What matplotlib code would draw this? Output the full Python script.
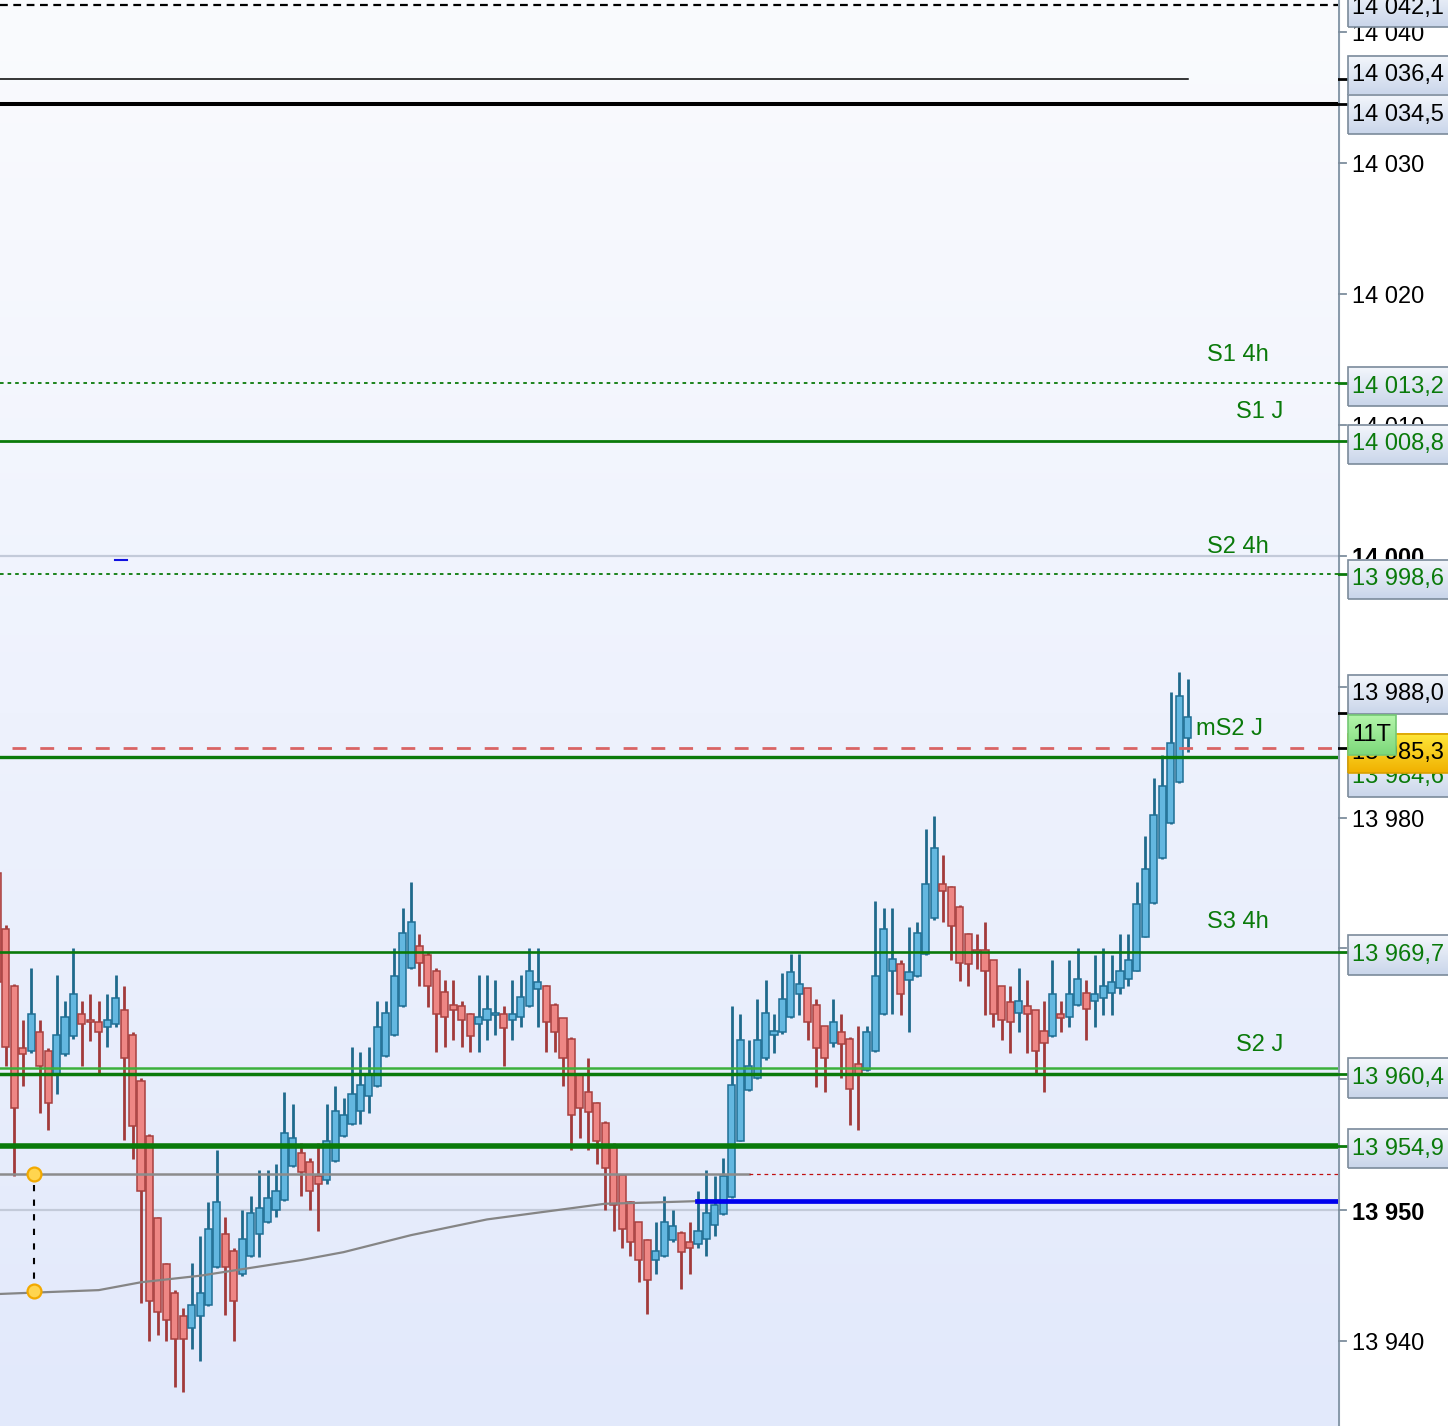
import matplotlib
matplotlib.use("Agg")
import matplotlib.pyplot as plt
import numpy as np
from matplotlib.colors import LinearSegmentedColormap
from matplotlib.patches import Rectangle

plt.rcParams["font.family"] = ["Liberation Sans", "DejaVu Sans"]

# ---- candle data, one entry per bar ----
opens = [13975.8, 13971.5, 13967.1, 13962.4, 13962.2, 13963.6, 13962.2, 13960.3, 13961.9, 13963.3,
         13965.0, 13964.5, 13964.4, 13964.0, 13964.2, 13965.3, 13963.4, 13959.9, 13955.7, 13949.4,
         13945.9, 13943.7, 13941.9, 13941.0, 13941.9, 13942.8, 13945.7, 13948.2, 13946.9, 13945.1,
         13946.5, 13948.2, 13949.1, 13950.0, 13950.8, 13953.4, 13954.4, 13953.7, 13952.6, 13952.3,
         13953.8, 13955.7, 13956.6, 13957.6, 13958.7, 13959.5, 13961.8, 13963.4, 13965.6, 13968.5,
         13970.2, 13969.5, 13968.3, 13966.7, 13965.7, 13965.6, 13965.0, 13964.2, 13964.5, 13964.9,
         13965.0, 13964.5, 13964.8, 13965.6, 13966.9, 13967.1, 13965.7, 13964.7, 13963.1, 13960.3,
         13959.0, 13958.2, 13956.7, 13955.0, 13952.7, 13950.6, 13949.1, 13947.7, 13946.2, 13946.5,
         13947.7, 13948.3, 13947.6, 13947.4, 13947.8, 13948.9, 13949.7, 13951.0, 13955.3, 13959.2,
         13960.1, 13961.6, 13963.4, 13963.6, 13964.8, 13966.5, 13967.0, 13965.7, 13964.1, 13962.8,
         13963.6, 13963.1, 13961.2, 13960.7, 13962.2, 13965.0, 13968.3, 13968.8, 13967.6, 13967.9,
         13969.6, 13972.3, 13974.9, 13974.7, 13973.2, 13971.1, 13969.8, 13969.9, 13969.1, 13967.1,
         13965.9, 13965.1, 13965.6, 13965.3, 13963.7, 13963.3, 13965.0, 13964.8, 13965.7, 13966.6,
         13966.0, 13966.2, 13966.6, 13967.0, 13967.7, 13968.3, 13970.9, 13973.5, 13976.9, 13979.6,
         13982.7, 13986.1]
highs = [13976.2, 13971.8, 13967.3, 13964.5, 13968.5, 13964.5, 13962.4, 13968.0, 13966.0, 13970.0,
         13966.0, 13966.5, 13966.0, 13966.5, 13968.0, 13967.1, 13963.6, 13960.1, 13955.8, 13949.5,
         13946.0, 13943.9, 13942.5, 13946.0, 13948.0, 13950.6, 13954.6, 13949.5, 13947.1, 13950.0,
         13951.1, 13953.1, 13953.1, 13953.5, 13959.0, 13958.1, 13955.1, 13954.0, 13955.1, 13958.1,
         13959.5, 13958.6, 13962.5, 13962.1, 13962.5, 13966.0, 13966.0, 13970.0, 13973.1, 13975.1,
         13971.1, 13969.7, 13968.5, 13967.6, 13967.6, 13966.0, 13965.1, 13968.0, 13968.0, 13967.6,
         13965.6, 13967.6, 13968.0, 13970.0, 13970.0, 13967.2, 13965.8, 13964.7, 13963.2, 13960.3,
         13961.6, 13958.3, 13956.8, 13955.1, 13952.8, 13950.7, 13949.1, 13947.8, 13949.1, 13951.1,
         13950.0, 13948.4, 13949.1, 13951.5, 13953.1, 13952.6, 13954.0, 13965.6, 13965.0, 13963.0,
         13966.1, 13967.6, 13965.0, 13968.1, 13969.6, 13969.6, 13967.0, 13966.1, 13964.1, 13966.1,
         13965.0, 13963.2, 13964.1, 13964.1, 13973.6, 13973.1, 13973.1, 13969.1, 13971.6, 13972.0,
         13979.1, 13980.1, 13977.1, 13974.8, 13973.3, 13971.2, 13971.1, 13972.0, 13969.1, 13967.1,
         13967.1, 13968.5, 13967.6, 13965.3, 13966.0, 13969.1, 13966.0, 13969.1, 13970.0, 13967.6,
         13969.5, 13970.0, 13969.5, 13971.1, 13971.1, 13975.1, 13978.6, 13983.0, 13984.8, 13989.6,
         13991.1, 13990.6]
lows = [13966.5, 13961.0, 13952.6, 13959.5, 13962.0, 13957.4, 13956.1, 13958.9, 13961.8, 13963.1,
        13961.0, 13962.9, 13960.5, 13962.5, 13964.0, 13955.4, 13953.9, 13942.9, 13940.0, 13940.5,
        13940.0, 13936.5, 13936.1, 13939.4, 13938.5, 13942.7, 13945.6, 13942.0, 13940.0, 13945.0,
        13946.4, 13946.4, 13949.0, 13949.5, 13950.7, 13953.3, 13951.1, 13950.0, 13948.4, 13952.0,
        13953.7, 13955.6, 13956.5, 13956.6, 13957.4, 13959.4, 13961.7, 13963.3, 13965.5, 13968.4,
        13967.1, 13965.5, 13962.1, 13962.5, 13963.0, 13962.5, 13962.1, 13962.1, 13963.0, 13963.4,
        13961.0, 13963.0, 13964.0, 13965.5, 13964.0, 13962.1, 13962.1, 13959.5, 13954.6, 13955.5,
        13954.6, 13953.5, 13950.0, 13948.4, 13947.1, 13946.5, 13944.5, 13942.1, 13945.1, 13946.4,
        13947.6, 13944.0, 13945.1, 13947.1, 13946.5, 13948.0, 13949.6, 13950.9, 13955.3, 13959.1,
        13960.0, 13961.5, 13962.0, 13963.5, 13964.7, 13964.9, 13963.0, 13959.4, 13959.0, 13962.5,
        13960.1, 13956.5, 13956.1, 13960.6, 13962.1, 13964.9, 13965.0, 13964.9, 13963.6, 13967.8,
        13969.5, 13972.2, 13972.0, 13969.1, 13967.5, 13967.1, 13968.4, 13964.9, 13964.0, 13963.0,
        13962.0, 13963.6, 13962.0, 13960.5, 13959.0, 13963.2, 13963.6, 13964.0, 13965.6, 13963.0,
        13964.0, 13964.9, 13964.9, 13966.5, 13967.1, 13968.3, 13970.9, 13973.4, 13976.8, 13979.5,
        13982.6, 13985.0]
closes = [13967.4, 13962.5, 13957.8, 13961.9, 13965.0, 13961.0, 13958.2, 13963.4, 13964.8, 13966.5,
          13964.2, 13964.4, 13963.6, 13964.5, 13966.2, 13961.6, 13956.4, 13951.5, 13943.1, 13942.2,
          13941.6, 13940.2, 13940.2, 13942.8, 13943.7, 13948.6, 13950.6, 13945.7, 13943.1, 13947.8,
          13949.8, 13950.2, 13950.9, 13951.5, 13955.9, 13955.5, 13952.9, 13951.5, 13952.0, 13955.3,
          13957.6, 13957.3, 13958.9, 13959.6, 13960.3, 13964.0, 13965.1, 13967.9, 13971.2, 13972.0,
          13968.9, 13967.1, 13965.0, 13964.8, 13965.3, 13964.5, 13963.3, 13964.8, 13965.4, 13965.0,
          13963.9, 13965.0, 13966.3, 13968.3, 13967.4, 13964.4, 13963.6, 13961.6, 13957.3, 13957.8,
          13957.5, 13955.3, 13953.2, 13950.4, 13948.6, 13947.6, 13946.2, 13944.7, 13946.9, 13949.1,
          13948.8, 13946.8, 13947.1, 13948.4, 13949.8, 13950.4, 13952.6, 13959.6, 13963.0, 13961.0,
          13963.0, 13965.1, 13963.7, 13966.1, 13968.2, 13967.3, 13964.4, 13962.4, 13961.6, 13964.4,
          13962.7, 13959.3, 13960.3, 13963.6, 13967.9, 13971.5, 13969.2, 13966.5, 13968.2, 13971.2,
          13974.9, 13977.7, 13974.4, 13971.7, 13968.9, 13968.8, 13969.7, 13968.3, 13965.0, 13964.5,
          13964.4, 13966.0, 13965.0, 13962.2, 13962.8, 13966.5, 13964.7, 13966.5, 13967.7, 13965.4,
          13966.5, 13967.1, 13967.4, 13968.3, 13969.1, 13973.4, 13976.1, 13980.2, 13982.4, 13985.7,
          13989.3, 13987.7]

# moving average curve (bar index, value)
ma_idx = [0, 12, 17, 24, 30, 36, 41, 49, 58, 65, 72, 78, 83, 88]
ma_val = [13943.6, 13943.9, 13944.5, 13945.0, 13945.6, 13946.2, 13946.8, 13948.1, 13949.3, 13949.9,
          13950.5, 13950.6, 13950.7, 13950.7]

# price levels
lvl_top_dotted = 14042.1
lvl_black_thin = 14036.4
lvl_black_thick = 14034.5
lvl_s1_4h = 14013.2
lvl_s1_j = 14008.8
lvl_s2_4h = 13998.6
lvl_last = 13985.3
lvl_ms2_j = 13984.6
lvl_s3_4h = 13969.7
lvl_s2_j_light = 13960.9
lvl_s2_j = 13960.4
lvl_thick_green = 13954.9
lvl_gray = 13952.8
lvl_blue = 13950.7
lvl_high_label = 13988.0
round_levels = [14000, 13950]
axis_ticks = [14040, 14030, 14020, 14010, 14000, 13990, 13980, 13970, 13960, 13950, 13940]
hidden_tick_labels = [13990, 13970, 13960]   # fully covered by level boxes
marker_prices = [13952.8, 13943.8]

GREEN = "#0a7a0a"
W, H = 1448, 1426
AXW = 1338
YLIM = (13933.52, 14042.45)
XLIM = (0.296, 158.83)

fig = plt.figure(figsize=(W / 100, H / 100), dpi=100, facecolor="white")
ax = fig.add_axes([0, 0, AXW / W, 1])
axr = fig.add_axes([AXW / W, 0, (W - AXW) / W, 1])

# background gradient
bg = LinearSegmentedColormap.from_list("bg", ["#fafbfe", "#eef2fd", "#e2e9fb"])
grad = np.linspace(0, 1, 256).reshape(-1, 1)
ax.imshow(grad, extent=[XLIM[0], XLIM[1], YLIM[0], YLIM[1]], cmap=bg, aspect="auto", zorder=0)

# round-number grid lines
for v in round_levels:
    ax.axhline(v, color="#c3cad9", lw=1.6, zorder=1)
ax.plot([13.9, 15.4], [13999.7, 13999.7], color="#1010e0", lw=1.5, zorder=1)

# candles
for i, (o, h, l, c) in enumerate(zip(opens, highs, lows, closes)):
    up = c >= o
    wick = "#1f6a8c" if up else "#a23a3a"
    face = "#63b7e0" if up else "#ee8684"
    edge = "#1f6e94" if up else "#a8403f"
    ax.vlines(i, l, h, color=wick, lw=2.0, zorder=3)
    ax.add_patch(Rectangle((i - 0.42, min(o, c)), 0.84, max(abs(c - o), 0.15),
                           facecolor=face, edgecolor=edge, lw=1.1, zorder=4))

# horizontal levels
ax.axhline(lvl_top_dotted, color="black", lw=1.6, dashes=(3.5, 2.5), zorder=5)
ax.plot([XLIM[0], 141.1], [lvl_black_thin] * 2, color="black", lw=1.1, zorder=5)
ax.axhline(lvl_black_thick, color="black", lw=2.9, zorder=5)
ax.axhline(lvl_s1_4h, color=GREEN, lw=1.3, dashes=(2, 2.2), zorder=5)
ax.axhline(lvl_s1_j, color=GREEN, lw=2.0, zorder=5)
ax.axhline(lvl_s2_4h, color=GREEN, lw=1.3, dashes=(2, 2.2), zorder=5)
ax.plot([1.7, XLIM[1]], [lvl_last] * 2, color="#d96464", lw=2.0, dashes=(5, 5), zorder=5)
ax.axhline(lvl_ms2_j, color=GREEN, lw=2.4, zorder=5)
ax.axhline(lvl_s3_4h, color=GREEN, lw=1.9, zorder=5)
ax.axhline(lvl_s2_j_light, color="#3cb03c", lw=1.8, zorder=5)
ax.axhline(lvl_s2_j, color=GREEN, lw=2.5, zorder=5)
ax.axhline(lvl_thick_green, color=GREEN, lw=4.0, zorder=5)
ax.plot([XLIM[0], 89.0], [lvl_gray] * 2, color="#8c8c8c", lw=1.8, zorder=5)
ax.plot([89.0, XLIM[1]], [lvl_gray] * 2, color="#c01010", lw=0.9, dashes=(3, 3), zorder=5)
ax.plot(ma_idx, ma_val, color="#858585", lw=1.6, zorder=5)
ax.plot([82.9, XLIM[1]], [lvl_blue] * 2, color="#0000ee", lw=3.4, zorder=6)

# measure markers
ax.plot([4.3, 4.3], [marker_prices[0] - 0.9, marker_prices[1] + 0.9], color="black",
        lw=1.5, dashes=(3, 4), zorder=6)
ax.plot([4.3, 4.3], marker_prices, ls="none", marker="o", ms=10, mfc="#ffd54f",
        mec="#f2a900", mew=1.6, zorder=7)

# level names
for txt, xi, yv in [("S1 4h", 147.0, 14015.5), ("S1 J", 149.5, 14011.2),
                    ("S2 4h", 147.0, 14000.9), ("S3 4h", 147.0, 13972.2),
                    ("S2 J", 149.5, 13962.8)]:
    ax.text(xi, yv - 0.2, txt, color=GREEN, fontsize=17, ha="center", va="center", zorder=8)
ax.text(142.0, 13986.8, "mS2 J", color=GREEN, fontsize=17, ha="left", va="center", zorder=8)

ax.set_xlim(*XLIM)
ax.set_ylim(*YLIM)
ax.axis("off")

# ---- right price axis ----
axr.set_xlim(0, W - AXW)
axr.set_ylim(*YLIM)
axr.axis("off")
axr.plot([0.8, 0.8], YLIM, color="#8a9bab", lw=1.5, zorder=1)


def fmt(v, dec=True):
    s = f"{v:,.1f}" if dec else f"{v:,.0f}"
    return s.replace(",", " ").replace(".", ",")


for v in axis_ticks:
    axr.plot([0, 8], [v, v], color="#7d8d9d", lw=1.3, zorder=2)
    if v in hidden_tick_labels:
        continue
    axr.text(14, v - 0.25, fmt(v, dec=False), fontsize=17, va="center", ha="left", color="black",
             fontweight="bold" if v in round_levels else "normal", zorder=2)

box_cmap = LinearSegmentedColormap.from_list("box", ["#f4f7fc", "#c9d5ea"])
gold_cmap = LinearSegmentedColormap.from_list("gold", ["#ffe83a", "#f0b000"])
lime_cmap = LinearSegmentedColormap.from_list("lime", ["#b4f5aa", "#7cd87a"])


def label_box(yc, text, color, cmap=box_cmap, x1=116, edge="#7b8b9b", z=3):
    h = 3.0
    axr.imshow(grad, extent=[10, x1, yc - h / 2, yc + h / 2], cmap=cmap, aspect="auto", zorder=z)
    axr.add_patch(Rectangle((10, yc - h / 2), x1 - 10, h, fill=False, ec=edge, lw=1.2, zorder=z))
    axr.text(14, yc, text, color=color, fontsize=17, va="center", ha="left", zorder=z)


# level ticks at the real prices
for v, col in [(lvl_black_thin, "black"), (lvl_black_thick, "black"), (lvl_s1_4h, GREEN),
               (lvl_s1_j, GREEN), (lvl_s2_4h, GREEN), (lvl_s3_4h, GREEN), (lvl_s2_j, GREEN),
               (lvl_thick_green, GREEN), (lvl_last, "black"), (lvl_high_label, "black")]:
    axr.plot([0, 8], [v, v], color=col, lw=2.0, zorder=2)

label_box(14041.85, fmt(lvl_top_dotted), "black")
label_box(14036.7, fmt(lvl_black_thin), "black")
label_box(14033.7, fmt(lvl_black_thick), "black")
label_box(14012.9, fmt(lvl_s1_4h), GREEN)
label_box(14008.5, fmt(lvl_s1_j), GREEN)
label_box(13998.2, fmt(lvl_s2_4h), GREEN)
label_box(13989.4, fmt(lvl_high_label), "black")
label_box(13983.1, fmt(lvl_ms2_j), GREEN, z=3)
label_box(13984.9, fmt(lvl_last), "black", cmap=gold_cmap, edge="#d9a000", z=4)
label_box(13986.3, "11T", "black", cmap=lime_cmap, x1=58, edge="#74c874", z=5)
label_box(13969.5, fmt(lvl_s3_4h), GREEN)
label_box(13960.1, fmt(lvl_s2_j), GREEN)
label_box(13954.7, fmt(lvl_thick_green), GREEN)

axr.set_xlim(0, W - AXW)
axr.set_ylim(*YLIM)

fig.savefig("out.png", dpi=100, facecolor="white")
